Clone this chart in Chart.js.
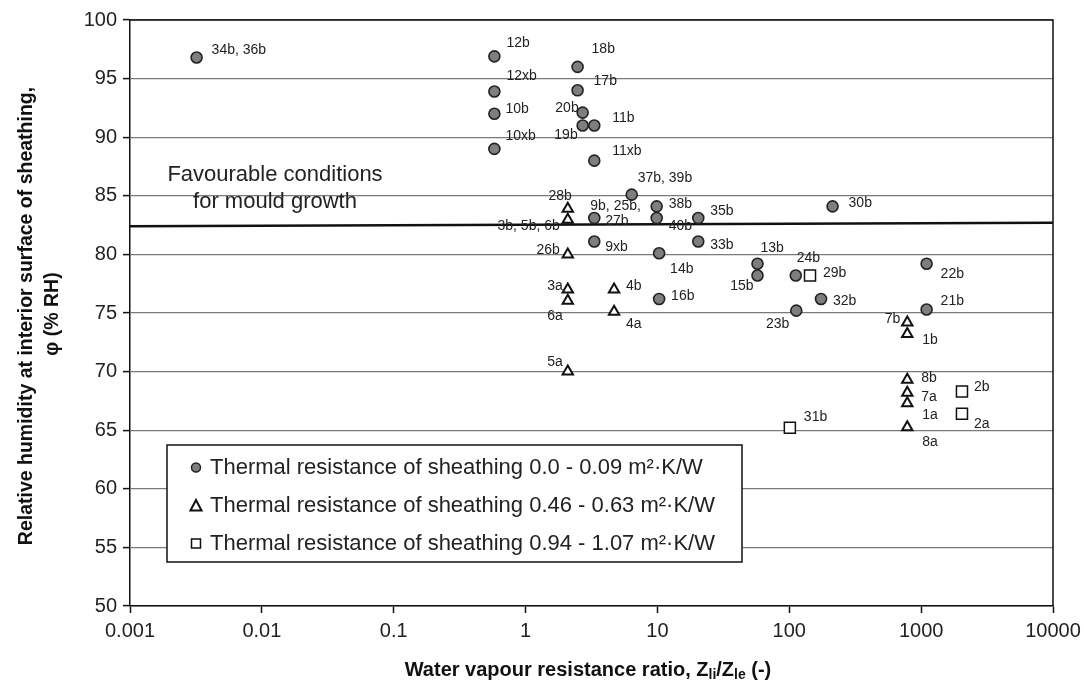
<!DOCTYPE html>
<html>
<head>
<meta charset="utf-8">
<script src="https://cdn.jsdelivr.net/npm/chart.js@4.4.1/dist/chart.umd.min.js"></script>
<style>
  html, body { margin: 0; padding: 0; background: #fff; }
</style>
</head>
<body>
<canvas id="mouldChart" width="1084" height="683"></canvas>
<script>
// Sheathing RH vs. water vapour resistance ratio, grouped by thermal resistance
const circleX = [0.0032, 0.58, 2.48, 0.58, 2.48, 0.58, 2.71, 2.71, 3.32, 0.58, 3.32, 6.38, 9.87, 3.32,
                 9.87, 20.4, 213, 3.32, 20.4, 10.3, 57.4, 57.4, 112, 10.3, 174, 113, 1100, 1100];
const circleY = [96.8, 96.9, 96, 93.9, 94, 92, 92.1, 91, 91, 89, 88, 85.1, 84.1, 83.1,
                 83.1, 83.1, 84.1, 81.1, 81.1, 80.1, 79.2, 78.2, 78.2, 76.2, 76.2, 75.2, 79.2, 75.3];
const circleLabels = ['34b, 36b', '12b', '18b', '12xb', '17b', '10b', '20b', '19b', '11b', '10xb', '11xb',
                      '37b, 39b', '38b', '9b, 25b, 27b', '40b', '35b', '30b', '9xb', '33b', '14b', '13b',
                      '15b', '24b', '16b', '32b', '23b', '22b', '21b'];

const triX = [2.09, 2.09, 2.09, 2.09, 2.09, 4.69, 4.69, 2.09, 785, 785, 785, 785, 785, 785];
const triY = [83.9, 82.95, 80, 77, 76.05, 77, 75.1, 70, 74.2, 73.2, 69.3, 68.2, 67.3, 65.25];
const triLabels = ['28b', '3b, 5b, 6b', '26b', '3a', '6a', '4b', '4a', '5a', '7b', '1b', '8b', '7a', '1a', '8a'];

const sqX = [143.6, 101, 2040, 2040];
const sqY = [78.2, 65.2, 68.3, 66.4];
const sqLabels = ['29b', '31b', '2b', '2a'];

// mould growth limit line
const limitX = [0.001, 10000];
const limitY = [82.4, 82.7];

const xTickValues = [0.001, 0.01, 0.1, 1, 10, 100, 1000, 10000];

const seriesNames = [
  'Thermal resistance of sheathing 0.0 - 0.09 m\u00B2\u00B7K/W',
  'Thermal resistance of sheathing 0.46 - 0.63 m\u00B2\u00B7K/W',
  'Thermal resistance of sheathing 0.94 - 1.07 m\u00B2\u00B7K/W'
];

// where each point label sits relative to its marker: [dx, dy, align]
const labelOffsets = {
  '34b, 36b': [15, -7], '12b': [12, -13], '18b': [14, -18], '12xb': [12, -15], '17b': [16, -9],
  '10b': [11, -5], '20b': [-4, -4, 'right'], '19b': [-5, 10, 'right'], '11b': [18, -7],
  '10xb': [11, -13], '11xb': [18, -9], '37b, 39b': [6, -16], '38b': [12, -2], '40b': [12, 8],
  '35b': [12, -7], '30b': [16, -3], '9xb': [11, 6], '33b': [12, 4], '14b': [11, 16],
  '13b': [3, -16], '15b': [-4, 11, 'right'], '24b': [1, -17], '16b': [12, -3], '32b': [12, 2],
  '23b': [-7, 13, 'right'], '22b': [14, 10], '21b': [14, -8],
  '28b': [4, -13, 'right'], '3b, 5b, 6b': [-8, 6, 'right'], '26b': [-8, -4, 'right'],
  '3a': [-5, -3, 'right'], '6a': [-5, 15, 'right'], '4b': [12, -3], '4a': [12, 12],
  '5a': [-5, -9, 'right'], '7b': [-7, -3, 'right'], '1b': [15, 6], '8b': [14, -2], '7a': [14, 4],
  '1a': [15, 12], '8a': [15, 15],
  '29b': [13, -2], '31b': [14, -11], '2b': [12, -4], '2a': [12, 10]
};
// labels broken over two lines
const labelSplits = {
  '9b, 25b, 27b': [['9b, 25b,', -4, -12], ['27b', 11, 3]]
};

const FONT = "'Liberation Sans', Arial, sans-serif";

function pts(xs, ys) {
  return xs.map((x, i) => ({ x: x, y: ys[i] }));
}

function drawMarker(ctx, style, x, y, r) {
  ctx.beginPath();
  if (style === 'circle') {
    ctx.arc(x, y, r, 0, Math.PI * 2);
  } else if (style === 'triangle') {
    ctx.moveTo(x, y - r);
    ctx.lineTo(x + r * 0.92, y + r * 0.75);
    ctx.lineTo(x - r * 0.92, y + r * 0.75);
    ctx.closePath();
  } else {
    ctx.rect(x - r, y - r, r * 2, r * 2);
  }
  ctx.fill();
  ctx.stroke();
}

// point labels next to the markers
const pointLabels = {
  id: 'pointLabels',
  afterDatasetsDraw(chart) {
    const ctx = chart.ctx;
    const groups = [circleLabels, triLabels, sqLabels];
    ctx.save();
    ctx.font = '14px ' + FONT;
    ctx.fillStyle = '#222';
    ctx.textBaseline = 'middle';
    groups.forEach((labels, di) => {
      const meta = chart.getDatasetMeta(di);
      meta.data.forEach((el, i) => {
        const text = labels[i];
        const pieces = labelSplits[text] ||
          [[text].concat(labelOffsets[text] || [12, 0])];
        pieces.forEach(p => {
          ctx.textAlign = p[3] || 'left';
          ctx.fillText(p[0], el.x + p[1], el.y + p[2]);
        });
      });
    });
    ctx.restore();
  }
};

// frame, annotation, legend box and axis titles
const decor = {
  id: 'decor',
  afterDraw(chart) {
    const ctx = chart.ctx;
    const a = chart.chartArea;
    ctx.save();

    ctx.strokeStyle = '#111';
    ctx.lineWidth = 1.5;
    ctx.beginPath();
    ctx.moveTo(a.left, a.top);
    ctx.lineTo(a.right, a.top);
    ctx.lineTo(a.right, a.bottom);
    ctx.stroke();

    ctx.fillStyle = '#222';
    ctx.font = '22px ' + FONT;
    ctx.textAlign = 'center';
    ctx.textBaseline = 'middle';
    ctx.fillText('Favourable conditions', a.left + 145, a.top + 155);
    ctx.fillText('for mould growth', a.left + 145, a.top + 182);

    // legend
    const lx = 167, ly = 445, lw = 575, lh = 117;
    ctx.fillStyle = '#fff';
    ctx.fillRect(lx, ly, lw, lh);
    ctx.strokeStyle = '#111';
    ctx.lineWidth = 1.5;
    ctx.strokeRect(lx, ly, lw, lh);
    const rowY = [467.5, 506, 543.5];
    const ds = chart.data.datasets;
    const legendSizes = [4.5, 6, 4.5];
    for (let i = 0; i < 3; i++) {
      ctx.fillStyle = ds[i].pointBackgroundColor;
      ctx.strokeStyle = ds[i].pointBorderColor;
      ctx.lineWidth = i === 1 ? 2 : 1.5;
      drawMarker(ctx, ds[i].pointStyle, 196, rowY[i], legendSizes[i]);
      ctx.fillStyle = '#222';
      ctx.font = '22px ' + FONT;
      ctx.textAlign = 'left';
      ctx.fillText(seriesNames[i], 210, rowY[i]);
    }

    // y axis title
    ctx.fillStyle = '#111';
    ctx.font = 'bold 19.5px ' + FONT;
    ctx.textAlign = 'center';
    ctx.save();
    ctx.translate(27, 316);
    ctx.rotate(-Math.PI / 2);
    ctx.fillText('Relative humidity at interior surface of sheathing,', 0, 0);
    ctx.restore();
    ctx.save();
    ctx.translate(53, 314);
    ctx.rotate(-Math.PI / 2);
    ctx.fillText('\u03C6 (% RH)', 0, 0);
    ctx.restore();

    // x axis title with subscripts
    const parts = [['Water vapour resistance ratio, Z', false], ['li', true], ['/Z', false], ['le', true], [' (-)', false]];
    const big = 'bold 20px ' + FONT, small = 'bold 14px ' + FONT;
    let total = 0;
    parts.forEach(p => { ctx.font = p[1] ? small : big; total += ctx.measureText(p[0]).width; });
    let x = 588 - total / 2;
    const y = 670;
    ctx.textAlign = 'left';
    parts.forEach(p => {
      ctx.font = p[1] ? small : big;
      ctx.fillText(p[0], x, p[1] ? y + 5 : y);
      x += ctx.measureText(p[0]).width;
    });

    ctx.restore();
  }
};

new Chart(document.getElementById('mouldChart'), {
  type: 'scatter',
  data: {
    datasets: [
      {
        label: seriesNames[0],
        data: pts(circleX, circleY),
        pointStyle: 'circle',
        pointRadius: 5.5,
        pointBackgroundColor: '#7e7e7e',
        pointBorderColor: '#222',
        pointBorderWidth: 1.6
      },
      {
        label: seriesNames[1],
        data: pts(triX, triY),
        pointStyle: 'triangle',
        pointRadius: 6,
        pointBackgroundColor: '#fff',
        pointBorderColor: '#111',
        pointBorderWidth: 2
      },
      {
        label: seriesNames[2],
        data: pts(sqX, sqY),
        pointStyle: 'rect',
        pointRadius: 7.8,
        pointBackgroundColor: '#fff',
        pointBorderColor: '#111',
        pointBorderWidth: 1.5
      },
      {
        type: 'line',
        label: 'limit',
        data: pts(limitX, limitY),
        borderColor: '#111',
        borderWidth: 2.5,
        pointRadius: 0,
        order: 5
      }
    ]
  },
  options: {
    responsive: false,
    animation: false,
    layout: { padding: { top: 20, right: 31, left: 0, bottom: 0 } },
    plugins: { legend: { display: false }, tooltip: { enabled: false } },
    scales: {
      x: {
        type: 'logarithmic',
        min: 0.001,
        max: 10000,
        afterBuildTicks: s => { s.ticks = xTickValues.map(v => ({ value: v })); },
        afterFit: s => { s.height = 77; s.paddingLeft = 0; s.paddingRight = 0; },
        ticks: {
          callback: v => String(v),
          autoSkip: false,
          maxRotation: 0,
          padding: 6,
          color: '#222',
          font: { family: FONT, size: 20 }
        },
        grid: { drawOnChartArea: false, tickLength: 7, tickColor: '#111', tickWidth: 1.5 },
        border: { color: '#111', width: 1.5 }
      },
      y: {
        min: 50,
        max: 100,
        afterFit: s => { s.width = 130; },
        ticks: {
          stepSize: 5,
          padding: 6,
          color: '#222',
          font: { family: FONT, size: 20 }
        },
        grid: { color: '#7a7a7a', lineWidth: 1.2, tickLength: 7, tickColor: '#111', tickWidth: 1.5 },
        border: { color: '#111', width: 1.5 }
      }
    }
  },
  plugins: [pointLabels, decor]
});
</script>
</body>
</html>
